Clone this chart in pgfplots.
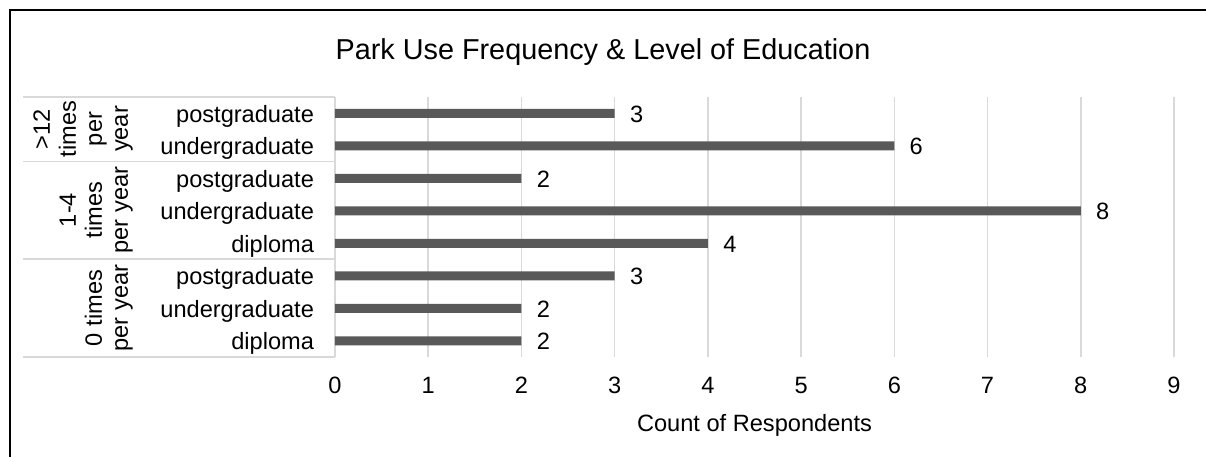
\documentclass[border=0pt]{standalone}
\usepackage{fontspec}
\setmainfont{Liberation Sans}
\usepackage{pgfplots}
\pgfplotsset{compat=1.18}
\definecolor{bargray}{HTML}{595959}
\definecolor{gridgray}{HTML}{D9D9D9}
\newcommand{\lab}{\fontsize{11.8}{13}\selectfont}
\begin{document}
\begin{tikzpicture}
\begin{axis}[
  name=ax,
  scale only axis, width=419.5pt, height=130pt,
  xbar, bar width=4.5pt,
  xmin=0, xmax=9, ymin=-0.5, ymax=7.5,
  xtick={0,...,9}, ytick={0,...,7},
  yticklabels={diploma,undergraduate,postgraduate,diploma,undergraduate,postgraduate,undergraduate,postgraduate},
  xmajorgrids, grid style={gridgray, line width=0.75pt},
  axis line style={draw=none}, major tick length=0pt,
  /pgf/number format/assume math mode=true,
  ticklabel style={font=\lab},
  xticklabel style={anchor=base, yshift=-18pt},
  yticklabel style={anchor=base east, xshift=-7pt, yshift=-4.5pt},
  xlabel={Count of Respondents},
  xlabel style={at={(axis description cs:0.5,0)}, anchor=base, yshift=-37pt, font=\lab},
  nodes near coords, point meta=x,
  nodes near coords style={font=\lab, anchor=base west, inner sep=0pt, xshift=7.5pt, yshift=-4.5pt},
  clip=false,
]
\draw[gridgray, line width=0.75pt] (rel axis cs:0,0) -- (rel axis cs:0,1);
\addplot[fill=bargray, draw=none] coordinates {(2,0) (2,1) (3,2) (4,3) (8,4) (2,5) (6,6) (3,7)};
\end{axis}
\begin{scope}[shift={(ax.south west)}, x=0.5pt, y=0.5pt]
\useasboundingbox (-335,-100) rectangle (871,357);
\draw[line width=1pt] (-325,-100) -- (-325,347) -- (871,347);
\node[anchor=base, font=\fontsize{14.4}{16}\selectfont] at (268,298) {Park Use Frequency \& Level of Education};
% multi-level category separators
\draw[gridgray, line width=0.75pt] (-312,260) -- (0,260);
\draw[gridgray, line width=0.75pt] (-312,195.5) -- (0,195.5);
\draw[gridgray, line width=0.75pt] (-312,98) -- (0,98);
\draw[gridgray, line width=0.75pt] (-312,0) -- (0,0);
% group labels
\begin{scope}[every node/.style={rotate=90, anchor=base, font=\lab, inner sep=0pt}]
\node at (-285,228) {>12};
\node at (-259,228) {times};
\node at (-233,228) {per};
\node at (-207,228) {year};
\node at (-259,147) {1-4};
\node at (-233,147) {times};
\node at (-207,147) {per year};
\node at (-233,49) {0 times};
\node at (-207,49) {per year};
\end{scope}
\end{scope}
\end{tikzpicture}
\end{document}
